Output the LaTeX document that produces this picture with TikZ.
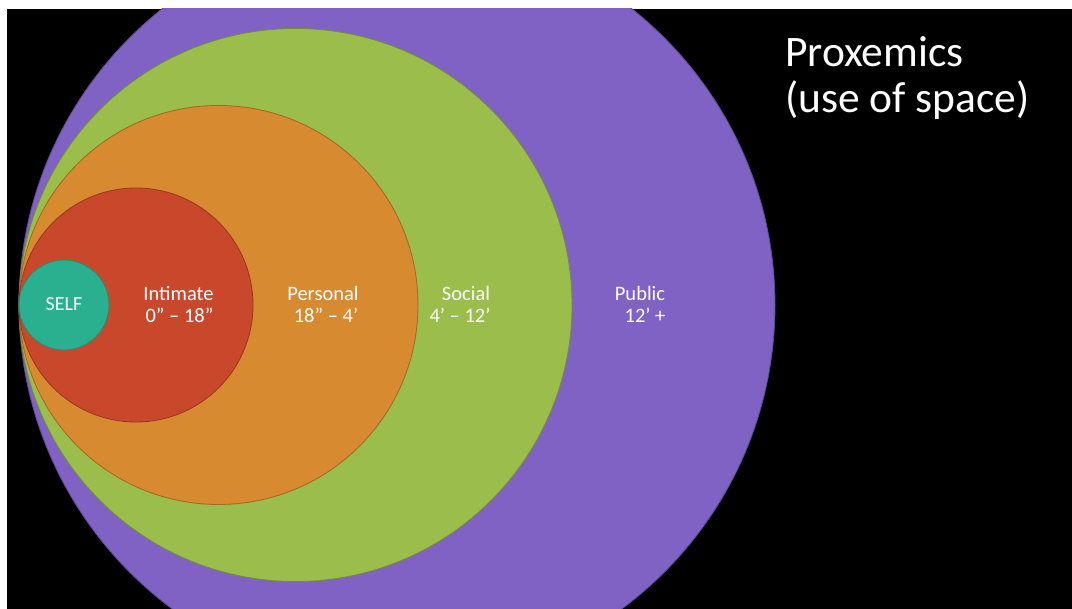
\documentclass[tikz,border=0pt]{standalone}
\usepackage{fontspec}
\setmainfont{Carlito}
\definecolor{cpublic}{HTML}{7F62C4}
\definecolor{csocial}{HTML}{9BBD4B}
\definecolor{cpersonal}{HTML}{D78A2F}
\definecolor{cintimate}{HTML}{C9482C}
\definecolor{cself}{HTML}{2AB08E}
\tikzset{
  zone/.style={circle, inner sep=0pt, line width=0.8pt},
  lbl/.style={text=white, font=\fontsize{20.5}{24}\selectfont, inner sep=0pt, anchor=base},
  ttl/.style={text=white, font=\fontsize{43.5}{46}\selectfont, inner sep=0pt, anchor=base west}
}
\begin{document}
\begin{tikzpicture}[x=1pt,y=-1pt]
\useasboundingbox (0,0) rectangle (1072,609);
\fill[white] (0,0) rectangle (1072,609);
\fill[black] (7,9) rectangle (1072,609);
\begin{scope}
\clip (7,9) rectangle (1072,609);
\node[zone, fill=cpublic, draw=cpublic!75!black, minimum size=756pt] (public) at (397,305) {};
\node[zone, fill=csocial, draw=csocial!75!black, minimum size=553pt] (social) at (295.5,305) {};
\node[zone, fill=cpersonal, draw=cpersonal!75!black, minimum size=399pt] (personal) at (218.5,305) {};
\node[zone, fill=cintimate, draw=cintimate!75!black, minimum size=234pt] (intimate) at (136,305) {};
\node[zone, fill=cself, draw=cself!80!black, minimum size=90pt] (self) at (64,305) {};
\end{scope}
\node[lbl, font=\fontsize{20}{24}\selectfont] (tself) at (64,311) {SELF};
\node[lbl] (tint1) at (178.5,300.5) {Intimate};
\node[lbl] (tint2) at (179.5,322.5) {0” – 18”};
\node[lbl] (tper1) at (323,300.5) {Personal};
\node[lbl] (tper2) at (326,322.5) {18” – 4’};
\node[lbl] (tsoc1) at (466,300.5) {Social};
\node[lbl] (tsoc2) at (460,322.5) {4’ – 12’};
\node[lbl] (tpub1) at (640,300.5) {Public};
\node[lbl] (tpub2) at (645,322.5) {12’ +};
\node[ttl] (title1) at (785,67) {Proxemics};
\node[ttl] (title2) at (785,113) {(use of space)};
\end{tikzpicture}
\end{document}
